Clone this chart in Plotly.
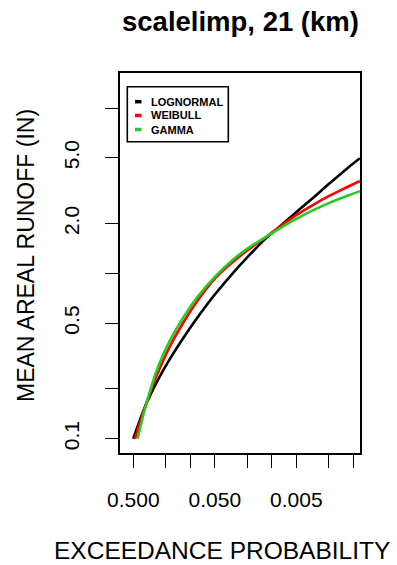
import plotly.graph_objects as go

# Fitted frequency curves: exceedance probability vs. mean areal runoff (in)
prob_lognormal = [0.5, 0.35, 0.25, 0.18, 0.12, 0.08, 0.05, 0.03, 0.02,
                  0.012, 0.008, 0.005, 0.003, 0.002, 0.0012, 0.00083]
runoff_lognormal = [0.1, 0.161, 0.2265, 0.301, 0.411, 0.548, 0.745, 1.005, 1.25,
                    1.618, 1.92, 2.35, 2.91, 3.47, 4.30, 4.97]

prob_weibull = [0.477, 0.35, 0.25, 0.18, 0.12, 0.08, 0.05, 0.03, 0.02,
                0.012, 0.008, 0.005, 0.003, 0.002, 0.0012, 0.00083]
runoff_weibull = [0.1, 0.161, 0.2497, 0.3574, 0.510, 0.692, 0.929, 1.173, 1.375,
                  1.650, 1.916, 2.249, 2.624, 2.932, 3.318, 3.62]

prob_gamma = [0.442, 0.35, 0.25, 0.18, 0.12, 0.08, 0.05, 0.03, 0.02,
              0.012, 0.008, 0.005, 0.003, 0.002, 0.0012, 0.00083]
runoff_gamma = [0.1, 0.160, 0.270, 0.388, 0.548, 0.729, 0.953, 1.208, 1.412,
                1.653, 1.869, 2.137, 2.431, 2.662, 2.939, 3.14]

series_names = ["LOGNORMAL", "WEIBULL", "GAMMA"]
series_colors = ["#000000", "#FF0000", "#22CC22"]

x_tickvals = [0.5, 0.2, 0.1, 0.05, 0.02, 0.01, 0.005, 0.002, 0.001]
x_ticktext = ["0.500", "", "", "0.050", "", "", "0.005", "", ""]
y_tickvals = [0.1, 0.2, 0.5, 1, 2, 5, 10]
y_ticktext = ["0.1", "", "0.5", "", "2.0", "5.0", ""]

title_text = "scalelimp, 21 (km)"
x_title = "EXCEEDANCE PROBABILITY"
y_title = "MEAN AREAL RUNOFF (IN)"

FONT = "Liberation Sans, Arial, Helvetica, sans-serif"

fig = go.Figure()
for name, color, px, py in zip(series_names, series_colors,
                               [prob_lognormal, prob_weibull, prob_gamma],
                               [runoff_lognormal, runoff_weibull, runoff_gamma]):
    fig.add_trace(go.Scatter(
        x=px, y=py, mode="lines", name=name, showlegend=False,
        line=dict(color=color, width=2.6, shape="spline", smoothing=1.0),
    ))

axis_common = dict(
    showgrid=False, zeroline=False, showline=True, mirror=True,
    linecolor="black", linewidth=1.6,
    ticks="outside", ticklen=13, tickwidth=1.4, tickcolor="black",
    tickfont=dict(family=FONT, size=21, color="black"),
)

fig.update_xaxes(
    type="log", range=[-0.1378, -3.0822],
    tickmode="array", tickvals=x_tickvals, ticktext=x_ticktext,
    ticklabelstandoff=14, **axis_common,
)
fig.update_yaxes(
    type="log", range=[-1.0862, 1.212],
    tickmode="array", tickvals=y_tickvals, ticktext=y_ticktext,
    tickangle=-90, ticklabelstandoff=18, **axis_common,
)

# plot-area geometry (pixels) used to place the text blocks
L, R, T, B = 120, 37, 73, 112
W, H = 397, 565
pw, ph = W - L - R, H - T - B


def px_x(x):
    return (x - L) / pw


def px_y(y):
    return (H - B - y) / ph


annotations = [
    dict(text=title_text, x=0.5, y=px_y(21), xref="paper", yref="paper",
         xanchor="center", yanchor="middle", showarrow=False,
         font=dict(family=FONT, size=27.5, color="black", weight="bold")),
    dict(text=x_title, x=px_x(222), y=px_y(550), xref="paper", yref="paper",
         xanchor="center", yanchor="middle", showarrow=False,
         font=dict(family=FONT, size=24.5, color="black")),
    dict(text=y_title, x=px_x(26), y=px_y(256), xref="paper", yref="paper",
         xanchor="center", yanchor="middle", showarrow=False, textangle=-90,
         font=dict(family=FONT, size=23, color="black")),
]

shapes = [
    # legend frame
    dict(type="rect", xref="paper", yref="paper",
         x0=px_x(127.3), x1=px_x(228.3), y0=px_y(141.7), y1=px_y(86.7),
         line=dict(color="black", width=1.6), fillcolor="white"),
]

legend_rows = [101.7, 115.5, 129.5]
for name, color, ry in zip(series_names, series_colors, legend_rows):
    shapes.append(dict(type="line", xref="paper", yref="paper",
                       x0=px_x(135), x1=px_x(141.5), y0=px_y(ry), y1=px_y(ry),
                       line=dict(color=color, width=3.5)))
    annotations.append(dict(text=name, x=px_x(149), y=px_y(ry), xref="paper", yref="paper",
                            xanchor="left", yanchor="middle", showarrow=False,
                            font=dict(family=FONT, size=11, color="black", weight="bold")))

fig.update_layout(
    width=W, height=H,
    margin=dict(l=L, r=R, t=T, b=B),
    paper_bgcolor="white", plot_bgcolor="white",
    annotations=annotations, shapes=shapes,
    showlegend=False,
)

fig.write_html("out.html")
